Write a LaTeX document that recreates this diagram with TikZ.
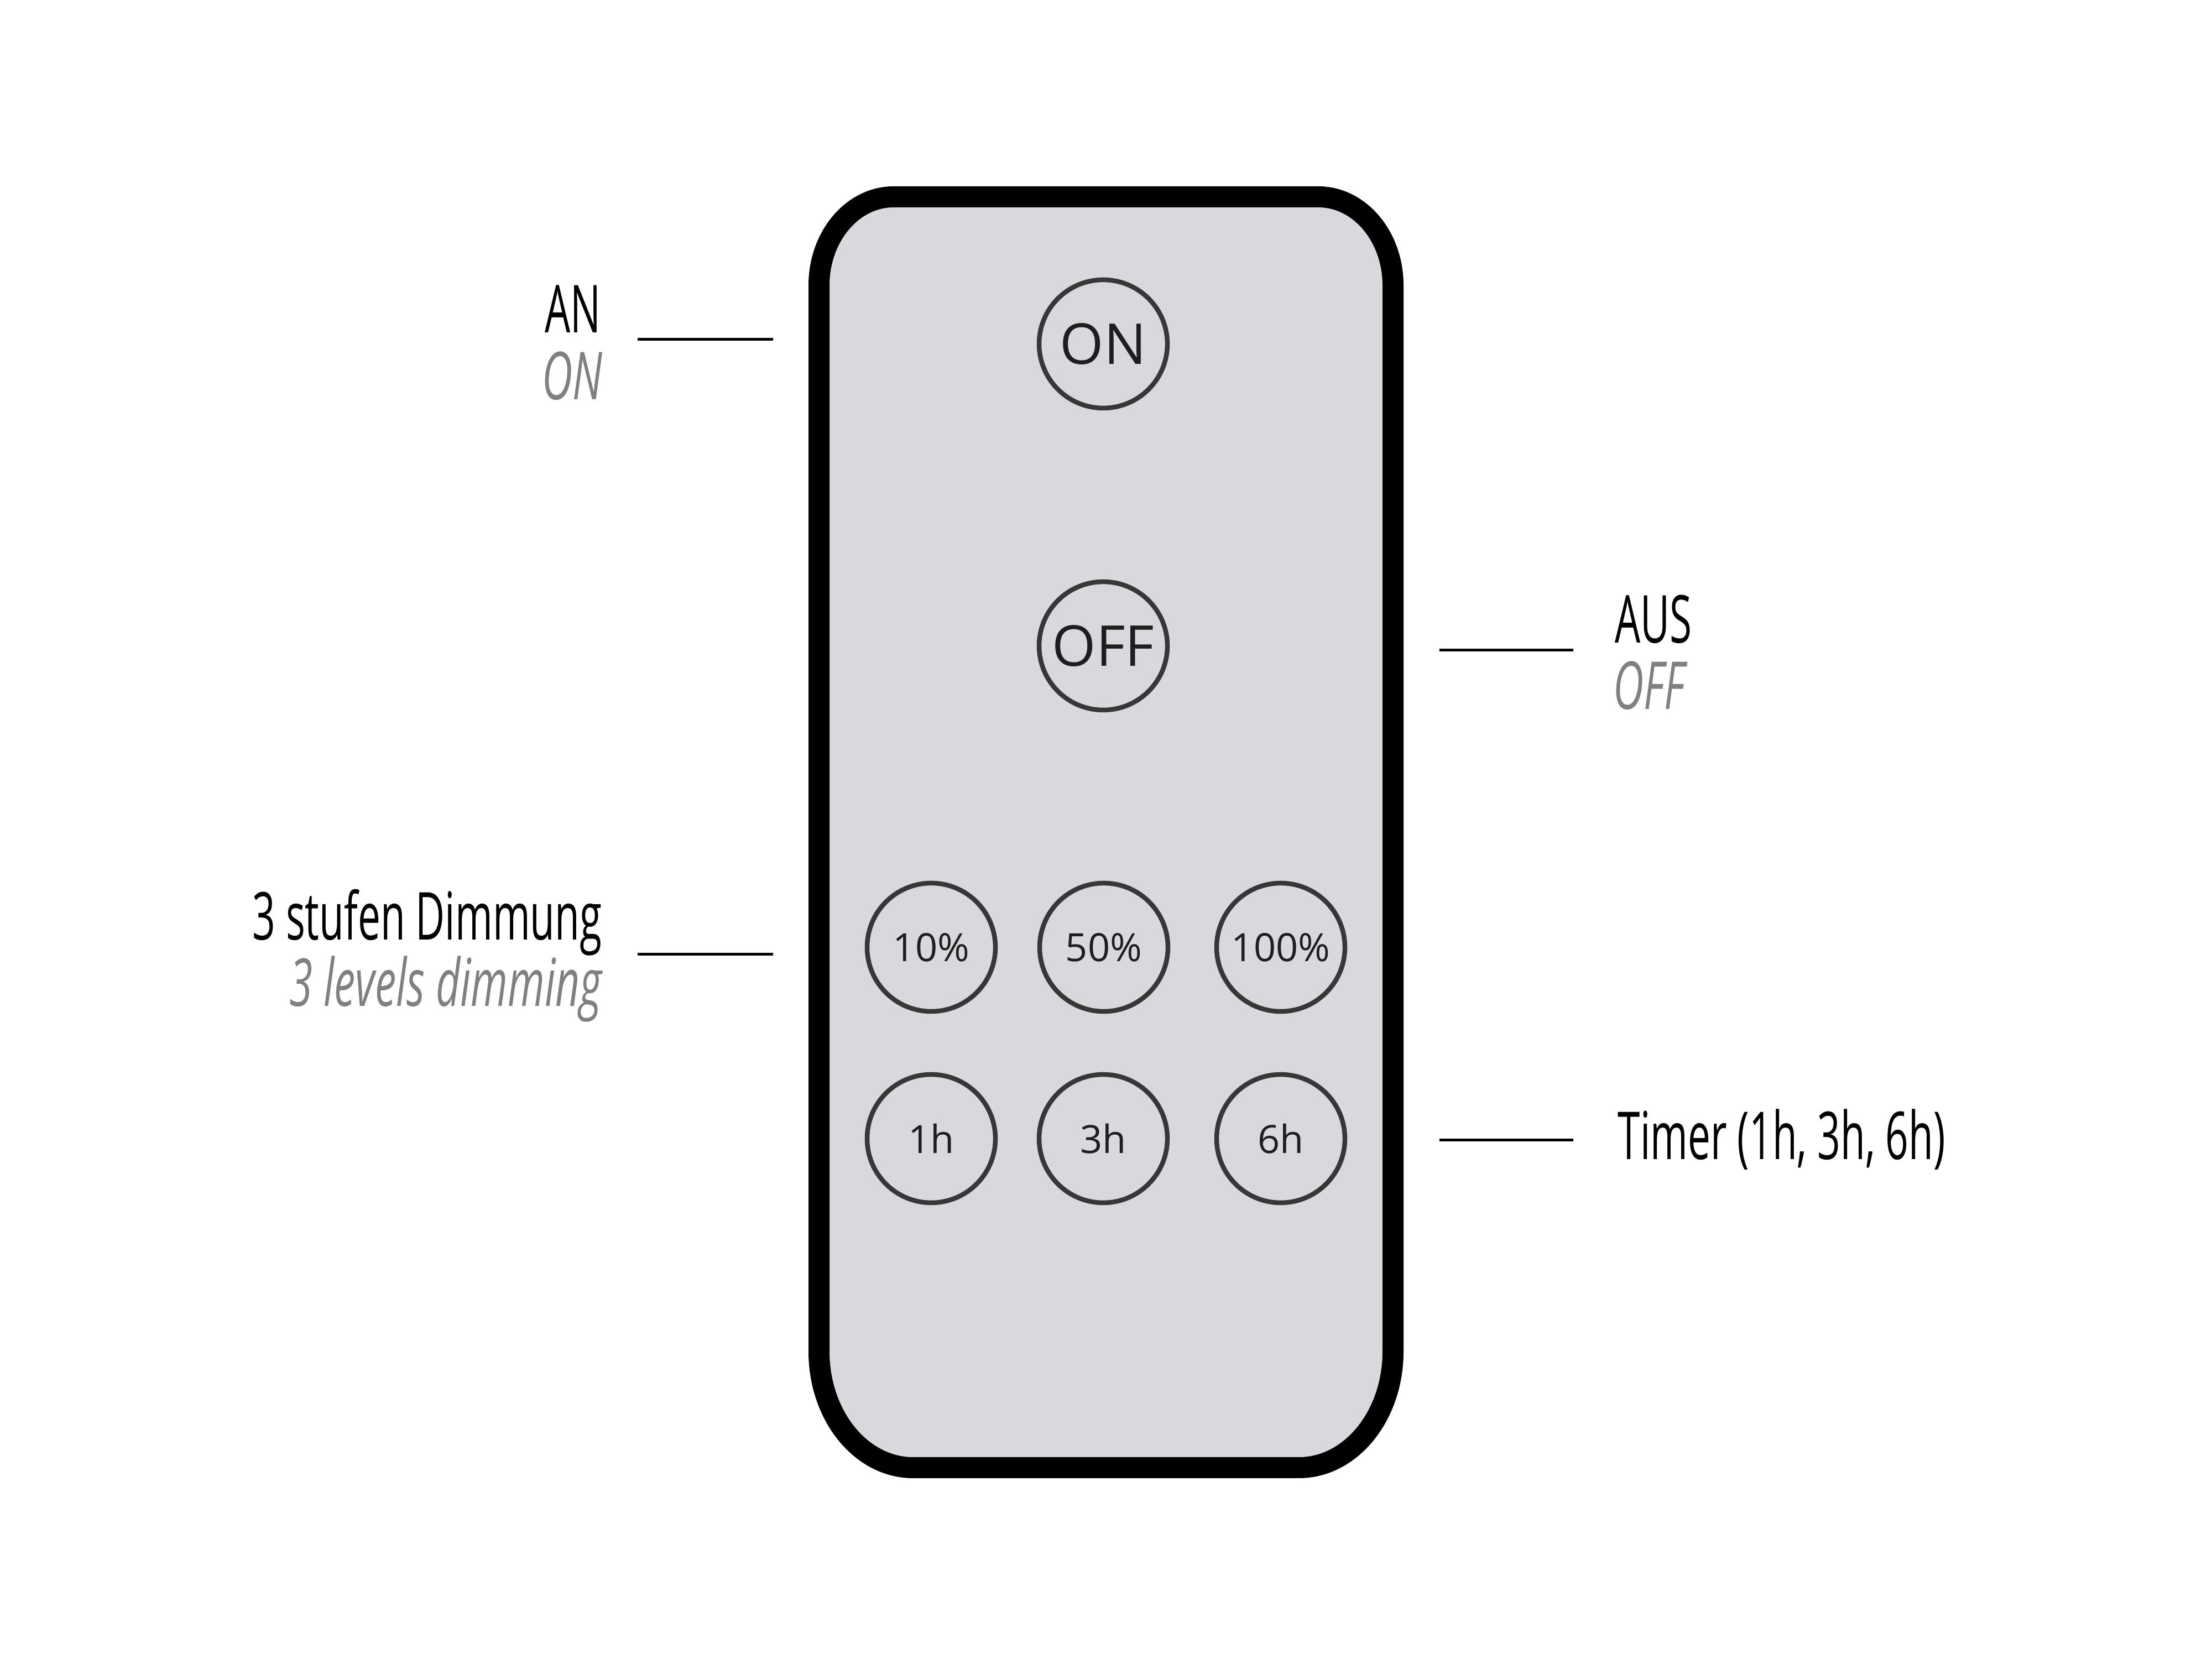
\documentclass[tikz,border=0pt]{standalone}
\usepackage{fontspec}
\setmainfont{Open Sans}
\definecolor{remotefill}{RGB}{216,217,220}
\definecolor{btnline}{RGB}{55,55,55}
\definecolor{btntext}{RGB}{30,30,30}
\definecolor{subgray}{RGB}{128,128,128}
\newcommand\cnd[1]{\scalebox{0.61}[1]{#1}}
\newcommand\cndi[1]{\scalebox{0.64}[1]{#1}}
\tikzset{
  lbl/.style={inner sep=0pt, font=\fontsize{34}{34}\selectfont, text=black},
  sublbl/.style={inner sep=0pt, font=\fontsize{34}{34}\selectfont\itshape, text=subgray},
  btn/.style={circle, draw=btnline, line width=0.085cm, minimum size=2.32cm, inner sep=0pt,
              font=\fontsize{20}{20}\selectfont, text=btntext},
  bigbtn/.style={btn, font=\fontsize{29}{29}\selectfont},
  lead/.style={line width=0.05cm, black}
}
\begin{document}
\begin{tikzpicture}
\useasboundingbox (0,0) rectangle (40,30);
\fill[white] (0,0) rectangle (40,30);
% remote body
\draw[line width=0.38cm, fill=remotefill, line join=round]
  (16.16,26.44) -- (23.84,26.44)
  arc[start angle=90, end angle=0, x radius=1.35, y radius=1.6]
  -- (25.19,5.56)
  arc[start angle=0, end angle=-90, x radius=1.7, y radius=2.1]
  -- (16.51,3.46)
  arc[start angle=270, end angle=180, x radius=1.7, y radius=2.1]
  -- (14.81,24.84)
  arc[start angle=180, end angle=90, x radius=1.35, y radius=1.6]
  -- cycle;
% buttons
\node[bigbtn] (bOn)  at (19.95,23.78) {ON};
\node[bigbtn] (bOff) at (19.95,18.32) {OFF};
\node[btn] (b10)  at (16.84,12.87) {10\%};
\node[btn] (b50)  at (19.96,12.87) {50\%};
\node[btn] (b100) at (23.16,12.87) {100\%};
\node[btn] (b1h)  at (16.84,9.41) {1h};
\node[btn] (b3h)  at (19.95,9.41) {3h};
\node[btn] (b6h)  at (23.16,9.41) {6h};
% labels
\node[lbl, anchor=base east] (lAn) at (10.87,23.98) {\cnd{AN}};
\node[sublbl, anchor=base east] (lOn) at (10.90,22.77) {\cndi{ON}};
\node[lbl, anchor=base east] (lDim) at (10.89,13.00) {\cnd{3 stufen Dimmung}};
\node[sublbl, anchor=base east] (lDimE) at (10.89,11.80) {\cndi{3 levels dimming}};
\node[lbl, anchor=base west] (lAus) at (29.20,18.37) {\cnd{AUS}};
\node[sublbl, anchor=base west] (lOff) at (29.17,17.17) {\cndi{OFF}};
\node[lbl, anchor=base west] (lTim) at (29.25,9.03) {\cnd{Timer (1h, 3h, 6h)}};
% leader lines
\coordinate (cAnA) at (11.53,23.86); \coordinate (cAnB) at (13.98,23.86);
\coordinate (cDimA) at (11.53,12.74); \coordinate (cDimB) at (13.98,12.74);
\coordinate (cAusA) at (26.03,18.24); \coordinate (cAusB) at (28.45,18.24);
\coordinate (cTimA) at (26.03,9.38); \coordinate (cTimB) at (28.45,9.38);
\draw[lead] (cAnA) -- (cAnB);
\draw[lead] (cDimA) -- (cDimB);
\draw[lead] (cAusA) -- (cAusB);
\draw[lead] (cTimA) -- (cTimB);
\end{tikzpicture}
\end{document}
